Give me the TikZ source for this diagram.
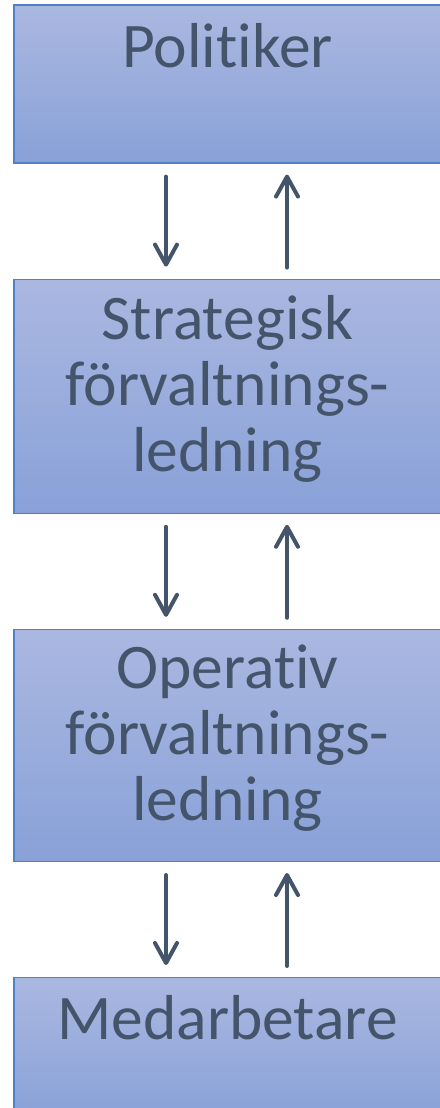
\documentclass[tikz,border=0pt]{standalone}
\usepackage{fontspec}
\setmainfont{Carlito}[Ligatures=NoCommon]
\usetikzlibrary{arrows.meta,positioning}
\definecolor{boxtop}{RGB}{170,184,225}
\definecolor{boxbot}{RGB}{137,161,216}
\definecolor{boxline}{RGB}{79,129,200}
\definecolor{txt}{RGB}{68,84,106}

\begin{document}
\begin{tikzpicture}[
    x=1pt, y=1pt,
    node distance=115pt,
    box/.style={rectangle, draw=boxline, line width=1.2pt, top color=boxtop, bottom color=boxbot, minimum width=427pt, inner sep=0pt},
    lbl/.style={text=txt, align=center, font=\fontsize{63.5}{66}\selectfont, inner sep=0pt},
    arrow/.style={-{Straight Barb[length=20pt, width=22pt, line cap=round, line join=round]}, line width=4pt, draw=txt, line cap=round}
]
    \useasboundingbox (0,0) rectangle (439,-1108);

    \node[box, minimum height=158pt] (pol) at (227.5,-84) {};
    \node[box, minimum height=234pt, below=of pol] (strat) {};
    \node[box, minimum height=232pt, below=of strat] (oper) {};
    \node[box, minimum height=140pt, below=of oper] (med) {};

    % base = last line for the three-line labels
    \node[lbl, anchor=base] (poltxt) at ([yshift=-63pt]pol.north) {Politiker};
    \node[lbl, anchor=base] (strattxt) at ([yshift=-193pt]strat.north) {Strategisk\\förvaltnings-\\ledning};
    \node[lbl, anchor=base] (opertxt) at ([yshift=-192pt]oper.north) {Operativ\\förvaltnings-\\ledning};
    \node[lbl, anchor=base] (medtxt) at ([yshift=-62pt]med.north) {Medarbetare};

    \coordinate (dn) at (166,0);
    \coordinate (up) at (287,0);
    \foreach \a/\b in {pol/strat, strat/oper, oper/med} {
        \draw[arrow, shorten <=13pt, shorten >=12pt] (\a.south -| dn) -- (\b.north -| dn);
        \draw[arrow, shorten <=11pt, shorten >=11pt] (\b.north -| up) -- (\a.south -| up);
    }
\end{tikzpicture}
\end{document}
